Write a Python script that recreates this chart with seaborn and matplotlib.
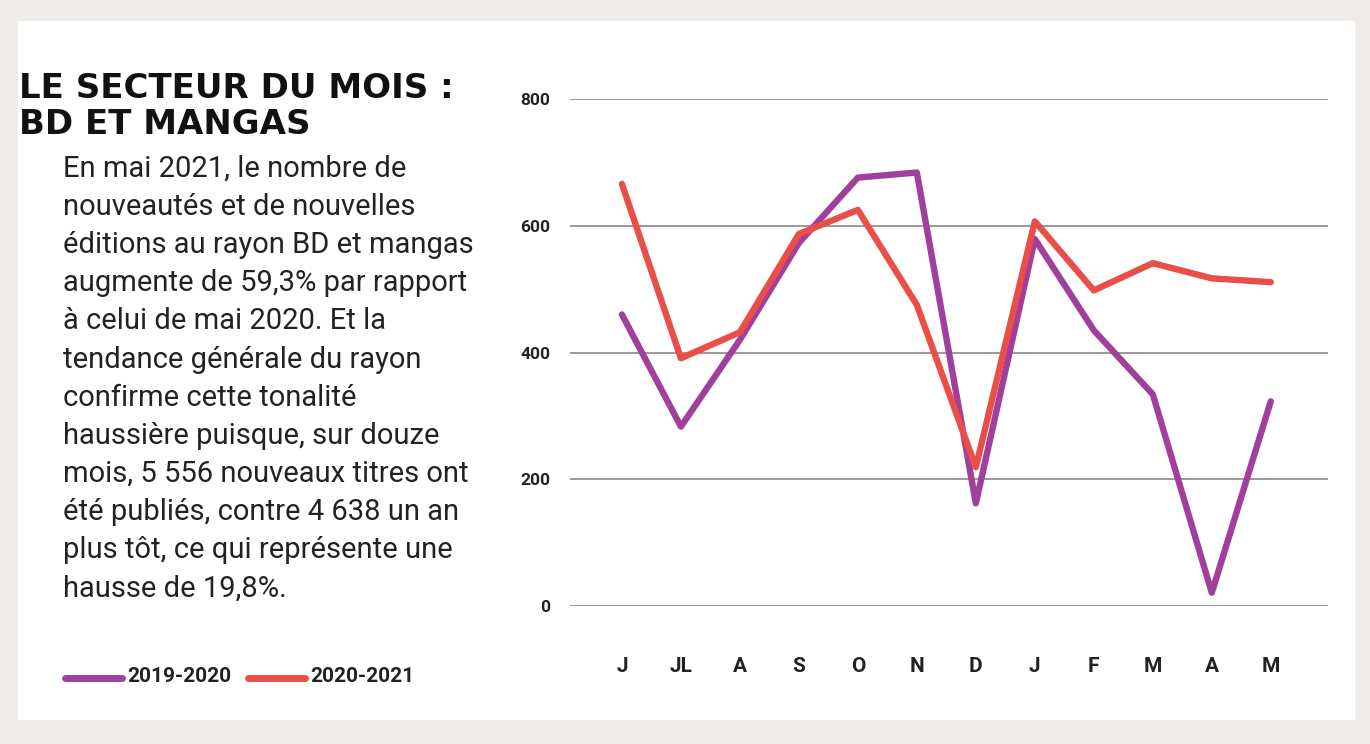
import pandas as pd
import matplotlib.pyplot as plt
import seaborn as sns
from matplotlib.patches import Rectangle

# --- Data ---
months = ["J", "JL", "A", "S", "O", "N", "D", "J", "F", "M", "A", "M"]
vals_2019_2020 = [460, 283, 420, 573, 676, 684, 162, 579, 435, 334, 21, 323]
vals_2020_2021 = [666, 391, 432, 587, 625, 475, 219, 607, 498, 541, 517, 511]
series_names = ["2019-2020", "2020-2021"]
colors = ["#a0409c", "#ea4e48"]
y_ticks = [0, 200, 400, 600, 800]

title = "LE SECTEUR DU MOIS :\nBD ET MANGAS"
body = ("En mai 2021, le nombre de\n"
        "nouveautés et de nouvelles\n"
        "éditions au rayon BD et mangas\n"
        "augmente de 59,3% par rapport\n"
        "à celui de mai 2020. Et la\n"
        "tendance générale du rayon\n"
        "confirme cette tonalité\n"
        "haussière puisque, sur douze\n"
        "mois, 5 556 nouveaux titres ont\n"
        "été publiés, contre 4 638 un an\n"
        "plus tôt, ce qui représente une\n"
        "hausse de 19,8%.")

df = pd.DataFrame({
    "pos": list(range(len(months))) * 2,
    "value": vals_2019_2020 + vals_2020_2021,
    "season": [series_names[0]] * len(months) + [series_names[1]] * len(months),
})

# --- Style ---
sns.set_style("white")
plt.rcParams["font.family"] = ["Roboto", "DejaVu Sans"]
num_font = ["Roboto", "DejaVu Sans"]

fig = plt.figure(figsize=(13.7, 7.44), dpi=100)
fig.patch.set_facecolor("#efece7")
# white card behind everything
fig.patches.append(Rectangle((18 / 1370, 1 - 720 / 744), (1355 - 18) / 1370, (720 - 21) / 744,
                             transform=fig.transFigure, facecolor="white", edgecolor="none", zorder=-10))

ax = fig.add_axes([570 / 1370, 1 - 606 / 744, (1328 - 570) / 1370, (606 - 99) / 744])
ax.set_facecolor("none")
ax.set_zorder(5)

sns.lineplot(data=df, x="pos", y="value", hue="season", palette=colors,
             linewidth=4.6, ax=ax, legend=False, clip_on=False)

ax.set_xlim(-0.88, 11.97)
ax.set_ylim(0, 800)
ax.set_yticks(y_ticks)
ax.set_yticklabels([str(v) for v in y_ticks], family=num_font, fontweight="bold",
                   fontsize=12.5, color="#222222")
ax.set_xticks(range(len(months)))
ax.set_xticklabels(months, family=num_font, fontweight="bold", fontsize=15, color="#222222")
ax.tick_params(axis="y", length=0, pad=14)
ax.tick_params(axis="x", length=0, pad=37)
ax.grid(axis="y", color="#9a9a9a", linewidth=1.4)
ax.grid(axis="x", visible=False)
ax.set_axisbelow(True)
for s in ax.spines.values():
    s.set_visible(False)
ax.set_xlabel("")
ax.set_ylabel("")

# --- Text block ---
fig.text(19 / 1370, 1 - 72 / 744, title, ha="left", va="top", fontsize=24.5,
         fontweight="heavy", family=["DejaVu Sans"], color="#111111", linespacing=1.12)
fig.text(63 / 1370, 1 - 155 / 744, body, ha="left", va="top", fontsize=21,
         color="#222222", linespacing=1.46)

# --- Legend ---
leg_x = [65, 248]
for name, col, lx in zip(series_names, colors, leg_x):
    fig.add_artist(plt.Line2D([lx / 1370, (lx + 57) / 1370], [1 - 678 / 744] * 2,
                              transform=fig.transFigure, color=col, linewidth=5,
                              solid_capstyle="round"))
    fig.text((lx + 62) / 1370, 1 - 676 / 744, name, ha="left", va="center",
             fontsize=15, fontweight="bold", family=num_font, color="#222222")

plt.savefig("out.png", dpi=100, facecolor=fig.get_facecolor())
